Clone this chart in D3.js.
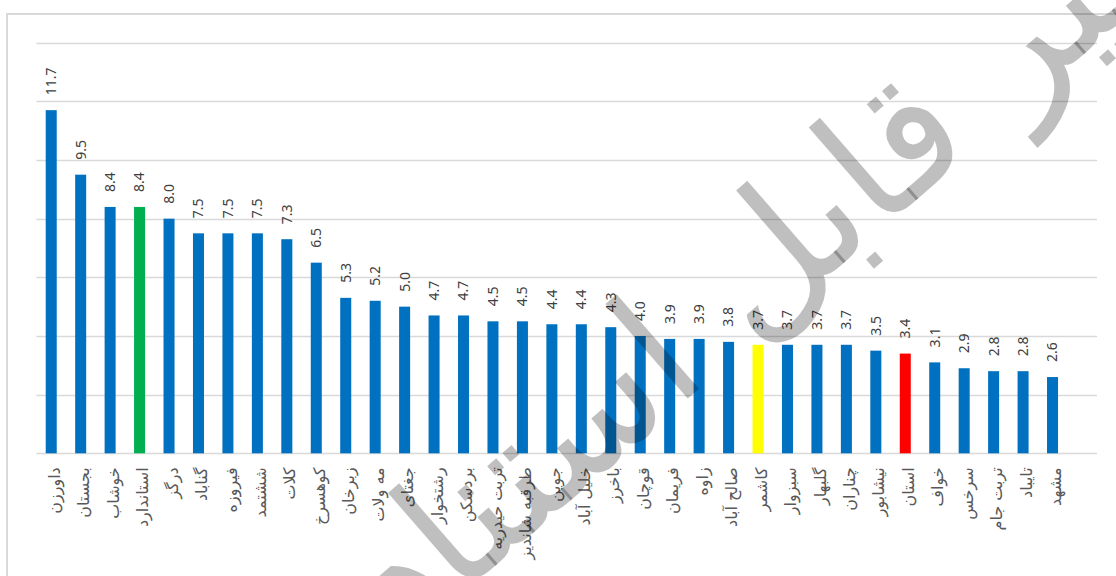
<!DOCTYPE html>
<html>
<head>
<meta charset="utf-8">
<script src="https://cdn.jsdelivr.net/npm/d3@7"></script>
<style>
  html, body { margin: 0; padding: 0; background: #ffffff; }
  svg { display: block; }
</style>
</head>
<body>
<svg id="chart" width="1116" height="576"></svg>
<script>
// Counties and their values, sorted from highest to lowest
const categories = [
  "داورزن", "بجستان", "خوشاب", "استاندارد", "درگز", "گناباد", "فیروزه", "ششتمد",
  "کلات", "کوهسرخ", "زبرخان", "مه ولات", "جغتای", "رشتخوار", "بردسکن", "تربت حیدریه",
  "طرقبه شاندیز", "جوین", "خلیل آباد", "باخرز", "قوچان", "فریمان", "زاوه", "صالح آباد",
  "کاشمر", "سبزوار", "گلبهار", "چناران", "نیشابور", "استان", "خواف", "سرخس",
  "تربت جام", "تایباد", "مشهد"
];
const values = [
  11.7, 9.5, 8.4, 8.4, 8.0, 7.5, 7.5, 7.5,
  7.3, 6.5, 5.3, 5.2, 5.0, 4.7, 4.7, 4.5,
  4.5, 4.4, 4.4, 4.3, 4.0, 3.9, 3.9, 3.8,
  3.7, 3.7, 3.7, 3.7, 3.5, 3.4, 3.1, 2.9,
  2.8, 2.8, 2.6
];
const yTicks = [0, 2, 4, 6, 8, 10, 12, 14];
const watermarkText = "غیر قابل استناد";

// Bars that are singled out with their own colour
const barColor = name => ({
  "استاندارد": "#00b050",
  "کاشمر": "#ffff00",
  "استان": "#ff0000"
}[name] || "#0070c0");

const svg = d3.select("#chart");

// Chart frame (only the top and left edges fall inside the page)
svg.append("rect")
  .attr("x", 7).attr("y", 14)
  .attr("width", 1300).attr("height", 800)
  .attr("fill", "#ffffff")
  .attr("stroke", "#d9d9d9").attr("stroke-width", 2);

const plot = { left: 36.5, right: 1097, top: 42.7, bottom: 453.3 };
const step = 29.45;

const x = d3.scaleBand()
  .domain(categories)
  .range([plot.left, plot.left + step * categories.length])
  .paddingInner(0.626)
  .paddingOuter(0.313);

const y = d3.scaleLinear()
  .domain([0, 14])
  .range([plot.bottom, plot.top]);

// Horizontal gridlines
svg.append("g")
  .selectAll("line")
  .data(yTicks)
  .join("line")
  .attr("x1", plot.left).attr("x2", plot.right)
  .attr("y1", d => Math.round(y(d)) + 0.5)
  .attr("y2", d => Math.round(y(d)) + 0.5)
  .attr("stroke", "#d9d9d9")
  .attr("stroke-width", 1.5);

const data = categories.map((c, i) => ({ name: c, value: values[i] }));

// Bars
svg.append("g")
  .selectAll("rect")
  .data(data)
  .join("rect")
  .attr("x", d => x(d.name))
  .attr("width", x.bandwidth())
  .attr("y", d => y(d.value))
  .attr("height", d => y(0) - y(d.value))
  .attr("fill", d => barColor(d.name));

// Value labels, rotated above each bar
svg.append("g")
  .selectAll("text")
  .data(data)
  .join("text")
  .attr("transform", d => `translate(${x(d.name) + x.bandwidth() / 2},${y(d.value) - 15}) rotate(-90)`)
  .attr("text-anchor", "start")
  .attr("dy", "0.35em")
  .attr("font-family", "'Noto Sans', 'DejaVu Sans', sans-serif")
  .attr("font-size", 14)
  .attr("fill", "#404040")
  .text(d => d.value.toFixed(1));

// Category axis labels, rotated and hanging below the axis
const xAxis = d3.axisBottom(x).tickSize(0).tickPadding(0);
const axisG = svg.append("g")
  .attr("transform", `translate(0,${plot.bottom})`)
  .call(xAxis);
axisG.select(".domain").remove();
axisG.selectAll(".tick text")
  .attr("transform", "translate(3,14) rotate(-90)")
  .attr("x", 0).attr("y", 0)
  .attr("dy", "0.35em")
  .attr("text-anchor", "end")
  .attr("font-family", "'DejaVu Sans', sans-serif")
  .attr("font-size", 16)
  .attr("fill", "#595959");

// Watermark across the chart
svg.append("text")
  .attr("transform", "translate(758,262) rotate(-41)")
  .attr("text-anchor", "middle")
  .attr("dominant-baseline", "central")
  .attr("font-family", "'DejaVu Sans', sans-serif")
  .attr("font-size", 165)
  .attr("fill", "#000000")
  .attr("fill-opacity", 0.25)
  .text(watermarkText);
</script>
</body>
</html>
